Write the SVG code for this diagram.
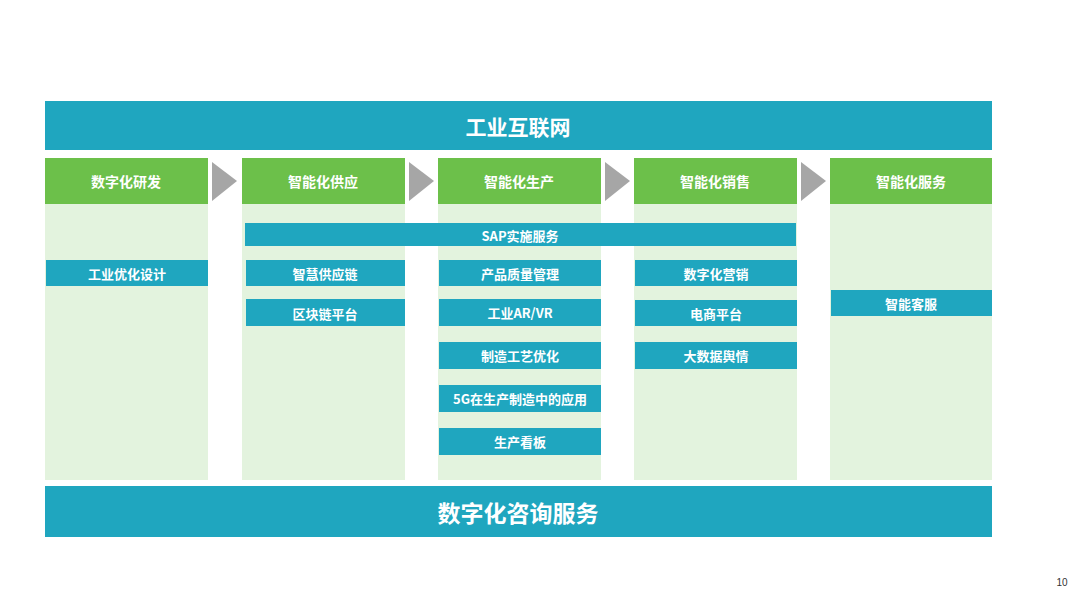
<svg xmlns="http://www.w3.org/2000/svg" width="1080" height="608" viewBox="0 0 1080 608">
<style>
text{font-family:"Noto Sans CJK SC","Noto Sans",sans-serif;fill:#fff;text-anchor:middle;dominant-baseline:central;font-weight:bold}
.bar{fill:#1fa6bf}.hd{fill:#6cc04a}.body{fill:#e3f3de}.it{fill:#1fa6bf}.arr{fill:#a6a6a6}
.s{font-size:13px}.h{font-size:14px}
</style>
<rect width="1080" height="608" fill="#fff"/>
<g id="top"><rect class="bar" x="45" y="101" width="947" height="49"/><text x="518" y="126" font-size="21">工业互联网</text></g>
<g id="bottom"><rect class="bar" x="45" y="486" width="947" height="51"/><text x="518" y="512" font-size="23">数字化咨询服务</text></g>
<g id="col1"><rect class="body" x="45" y="158" width="163" height="322"/><rect class="hd" x="45" y="158" width="163" height="46"/><text class="h" x="126" y="181">数字化研发</text></g>
<g id="col2"><rect class="body" x="242" y="158" width="163" height="322"/><rect class="hd" x="242" y="158" width="163" height="46"/><text class="h" x="323" y="181">智能化供应</text></g>
<g id="col3"><rect class="body" x="438" y="158" width="163" height="322"/><rect class="hd" x="438" y="158" width="163" height="46"/><text class="h" x="519" y="181">智能化生产</text></g>
<g id="col4"><rect class="body" x="634" y="158" width="163" height="322"/><rect class="hd" x="634" y="158" width="163" height="46"/><text class="h" x="715" y="181">智能化销售</text></g>
<g id="col5"><rect class="body" x="830" y="158" width="162" height="322"/><rect class="hd" x="830" y="158" width="162" height="46"/><text class="h" x="911" y="181">智能化服务</text></g>
<g id="connectors">
<polygon class="arr" points="212,162 237,181 212,201"/>
<polygon class="arr" points="409,162 434,181 409,201"/>
<polygon class="arr" points="605,162 630,181 605,201"/>
<polygon class="arr" points="801,162 826,181 801,201"/>
</g>
<g id="sap"><rect class="it" x="245" y="223" width="551" height="23"/><text class="s" x="520" y="235">SAP实施服务</text></g>
<g id="i1"><rect class="it" x="46" y="260" width="162" height="26"/><text class="s" x="127" y="273">工业优化设计</text></g>
<g id="i2"><rect class="it" x="246" y="260" width="159" height="26"/><text class="s" x="325" y="273">智慧供应链</text></g>
<g id="i3"><rect class="it" x="246" y="299" width="159" height="27"/><text class="s" x="325" y="313">区块链平台</text></g>
<g id="i4"><rect class="it" x="439" y="260" width="162" height="26"/><text class="s" x="520" y="273">产品质量管理</text></g>
<g id="i5"><rect class="it" x="439" y="299" width="162" height="27"/><text class="s" x="520" y="312">工业AR/VR</text></g>
<g id="i6"><rect class="it" x="439" y="342" width="162" height="27"/><text class="s" x="520" y="355">制造工艺优化</text></g>
<g id="i7"><rect class="it" x="439" y="385" width="162" height="27"/><text class="s" x="520" y="398">5G在生产制造中的应用</text></g>
<g id="i8"><rect class="it" x="439" y="428" width="162" height="27"/><text class="s" x="520" y="441">生产看板</text></g>
<g id="i9"><rect class="it" x="635" y="260" width="162" height="26"/><text class="s" x="716" y="273">数字化营销</text></g>
<g id="i10"><rect class="it" x="635" y="300" width="162" height="26"/><text class="s" x="716" y="313">电商平台</text></g>
<g id="i11"><rect class="it" x="635" y="342" width="162" height="27"/><text class="s" x="716" y="355">大数据舆情</text></g>
<g id="i12"><rect class="it" x="831" y="290" width="161" height="26"/><text class="s" x="911" y="303">智能客服</text></g>
<text x="1062" y="582" font-size="10" style="fill:#333;font-weight:normal;font-family:'Liberation Sans',sans-serif">10</text>
</svg>
